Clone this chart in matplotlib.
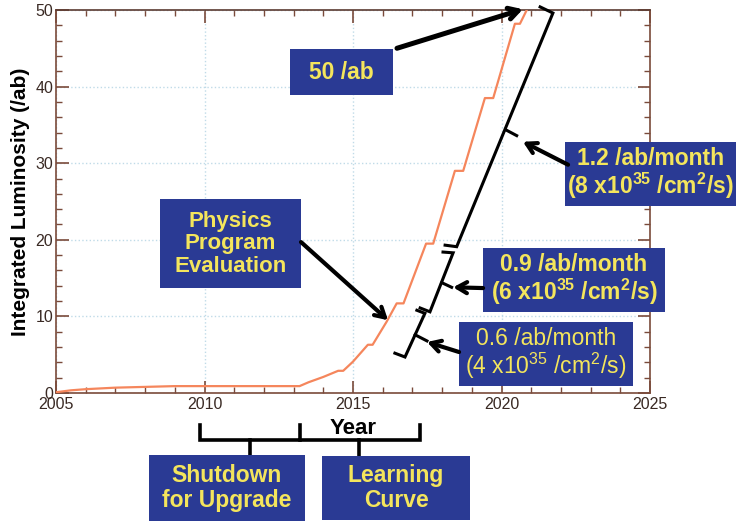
import matplotlib
matplotlib.use("Agg")
import matplotlib.pyplot as plt
from matplotlib.patches import Rectangle
from matplotlib.ticker import MultipleLocator

plt.rcParams['font.family'] = ['Liberation Sans', 'DejaVu Sans']
plt.rcParams['mathtext.fontset'] = 'custom'
plt.rcParams['mathtext.rm'] = 'Liberation Sans'
plt.rcParams['mathtext.bf'] = 'Liberation Sans:bold'

# integrated luminosity
years = [2005, 2005.5, 2006, 2007, 2008, 2009, 2013.2, 2013.5, 2014.0, 2014.5,
         2014.67, 2015.0, 2015.5, 2015.66, 2016.13, 2016.47, 2016.7, 2017.46,
         2017.7, 2018.43, 2018.71, 2019.44, 2019.72, 2020.45, 2020.62, 2020.85]
lumi = [0.1, 0.35, 0.5, 0.7, 0.8, 0.9, 0.9, 1.4, 2.1, 2.9,
        2.9, 4.1, 6.3, 6.3, 9.3, 11.7, 11.7, 19.5,
        19.5, 29.0, 29.0, 38.5, 38.5, 48.2, 48.2, 50.0]

x_ticks = [2005, 2010, 2015, 2020, 2025]
y_ticks = [0, 10, 20, 30, 40, 50]

BOX = '#2a3a94'
TXT = '#f4e55c'
AXC = '#7a4a3a'

fig = plt.figure(figsize=(7.36, 5.25), dpi=100)
ax = fig.add_axes([0.0761, 0.2514, 0.8071, 0.7296])

ax.plot(years, lumi, color='#f5865c', lw=1.6, zorder=3)

ax.set_xlim(2005, 2025)
ax.set_ylim(0, 50)
ax.set_xticks(x_ticks)
ax.set_yticks(y_ticks)
ax.xaxis.set_minor_locator(MultipleLocator(1))
ax.yaxis.set_minor_locator(MultipleLocator(2))
ax.tick_params(which='both', direction='in', top=True, right=True, color=AXC,
               labelcolor='#3a2a24', labelsize=11.5)
ax.tick_params(which='major', length=9, width=1.2)
ax.tick_params(which='minor', length=4, width=1)
ax.tick_params(axis='x', pad=3)
ax.tick_params(axis='y', pad=2)
for s in ax.spines.values():
    s.set_color(AXC)
    s.set_linewidth(1.2)
ax.spines['top'].set_color('#5a3a30')
ax.grid(True, which='major', color='#c0dbe8', linestyle=':', linewidth=1)

ax.set_ylabel('Integrated Luminosity (/ab)', fontsize=15, fontweight='bold')
ax.yaxis.set_label_coords(-0.044, 0.5)
ax.set_xlabel('Year', fontsize=16, fontweight='bold')
ax.xaxis.set_label_coords(0.5, -0.066)


def box(x0, x1, y0, y1, text, size=16.5, weight='bold', ls=1.15):
    ax.add_patch(Rectangle((x0, y0), x1 - x0, y1 - y0, facecolor=BOX,
                           edgecolor='none', clip_on=False, zorder=5))
    ax.text((x0 + x1) / 2, (y0 + y1) / 2, text, ha='center', va='center',
            color=TXT, fontsize=size, fontweight=weight, linespacing=ls,
            clip_on=False, zorder=6)


def arrow(start, tip, lw=3):
    ax.annotate('', xy=tip, xytext=start, annotation_clip=False,
                arrowprops=dict(arrowstyle='->,head_length=0.7,head_width=0.4',
                                lw=lw, color='k', shrinkA=0, shrinkB=0),
                zorder=7)


def path(xs, ys, lw=2.2):
    ax.plot(xs, ys, color='k', lw=lw, clip_on=False, zorder=4,
            solid_joinstyle='miter')


# boxes
box(2012.88, 2016.35, 38.9, 44.9, '50 /ab', size=16.5)
box(2008.5, 2013.25, 13.7, 25.3, 'Physics\nProgram\nEvaluation', size=16,
    ls=1.1)
box(2022.14, 2027.9, 24.4, 32.8,
    '1.2 /ab/month\n(8 x10$^{\\mathbf{35}}$ /cm$^{\\mathbf{2}}$/s)', size=16.5,
    ls=1.05)
box(2019.38, 2025.5, 10.6, 18.9,
    '0.9 /ab/month\n(6 x10$^{\\mathbf{35}}$ /cm$^{\\mathbf{2}}$/s)', size=16.5,
    ls=1.05)
box(2018.57, 2024.43, 0.9, 9.3,
    '0.6 /ab/month\n(4 x10$^{\\mathrm{35}}$ /cm$^{\\mathrm{2}}$/s)', size=16.5,
    weight='normal', ls=1.05)
box(2008.13, 2013.38, -16.7, -8.1, 'Shutdown\nfor Upgrade', size=16.5)
box(2013.96, 2018.94, -16.6, -8.2, 'Learning\nCurve', size=16.5)

# arrows
arrow((2016.48, 45.0), (2020.72, 50.1), lw=3.6)
arrow((2013.25, 19.7), (2016.18, 9.5))
arrow((2022.24, 29.8), (2020.72, 32.8))
arrow((2019.38, 13.7), (2018.37, 13.8))
arrow((2018.57, 5.35), (2017.49, 6.66))

# braces along the curve
path([2021.30, 2021.73, 2018.49, 2018.10], [50.4, 49.6, 19.1, 19.3])
path([2020.17, 2020.51], [34.3, 33.6])
path([2018.03, 2018.37, 2017.59, 2017.26], [18.4, 18.3, 10.6, 11.1])
path([2017.99, 2018.32], [14.4, 13.8])
path([2017.15, 2017.42, 2016.75, 2016.41], [10.8, 10.4, 4.7, 5.2])
path([2017.09, 2017.49], [7.6, 6.8])

# braces under the year axis
path([2009.85, 2009.85, 2013.22, 2013.22], [-4.2, -6.1, -6.1, -4.2], lw=2.6)
path([2013.22, 2017.26, 2017.26], [-6.1, -6.1, -4.2], lw=2.6)
path([2011.53, 2011.53], [-6.1, -8.1], lw=2.6)
path([2015.2, 2015.2], [-6.1, -8.1], lw=2.6)

fig.savefig('out.png', dpi=100)
